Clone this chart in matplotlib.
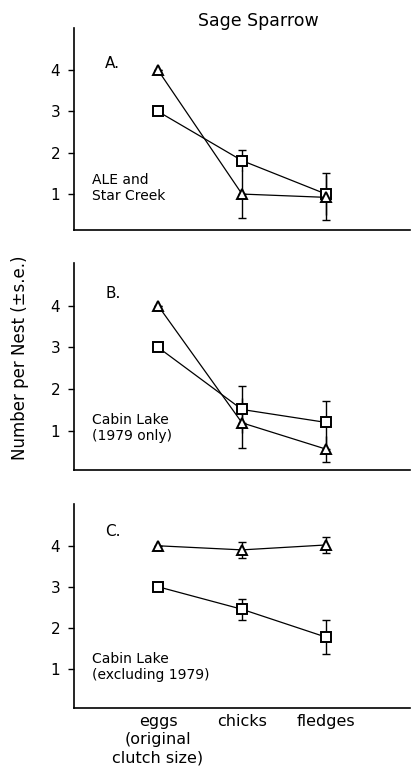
import matplotlib
matplotlib.use("Agg")
import matplotlib.pyplot as plt
import numpy as np

stages = ["eggs\n(original\nclutch size)", "chicks", "fledges"]

# Panel A: ALE and Star Creek
a_tri = [4.0, 1.0, 0.92]
a_tri_se = [0.0, 0.58, 0.54]
a_sq = [3.0, 1.81, 1.0]
a_sq_se = [0.0, 0.26, 0.5]

# Panel B: Cabin Lake (1979 only)
b_tri = [4.0, 1.19, 0.56]
b_tri_se = [0.0, 0.6, 0.31]
b_sq = [3.0, 1.51, 1.2]
b_sq_se = [0.0, 0.57, 0.52]

# Panel C: Cabin Lake (excluding 1979)
c_tri = [4.0, 3.9, 4.02]
c_tri_se = [0.0, 0.19, 0.19]
c_sq = [3.0, 2.45, 1.77]
c_sq_se = [0.0, 0.25, 0.42]

yticks = [1, 2, 3, 4]
panel_labels = ["A.", "B.", "C."]
site_labels = ["ALE and\nStar Creek", "Cabin Lake\n(1979 only)", "Cabin Lake\n(excluding 1979)"]

W, H = 417, 773
fig = plt.figure(figsize=(W / 100, H / 100), dpi=100)
plt.rcParams['font.family'] = ['DejaVu Sans']

boxes = [(74, 410, 28, 230), (74, 410, 263, 470), (74, 410, 504, 708)]
ylims = [(0.13, 5.02), (0.06, 5.02), (0.04, 5.02)]
panel_y = [4.17, 4.3, 4.34]
site_y = [1.15, 1.06, 1.05]
data = [(a_tri, a_tri_se, a_sq, a_sq_se),
        (b_tri, b_tri_se, b_sq, b_sq_se),
        (c_tri, c_tri_se, c_sq, c_sq_se)]
x = np.arange(1, len(stages) + 1)

def err(ax, y, se, side, cap):
    se = np.asarray(se)
    z = np.zeros_like(se)
    if side == "up":
        ax.errorbar(x, y, yerr=[z, se], fmt="none", ecolor="black", elinewidth=1.0,
                    capsize=cap, capthick=1.0, zorder=2)
        ax.errorbar(x, y, yerr=[se, z], fmt="none", ecolor="black", elinewidth=1.0,
                    capsize=0, zorder=2)
    elif side == "down":
        ax.errorbar(x, y, yerr=[se, z], fmt="none", ecolor="black", elinewidth=1.0,
                    capsize=cap, capthick=1.0, zorder=2)
        ax.errorbar(x, y, yerr=[z, se], fmt="none", ecolor="black", elinewidth=1.0,
                    capsize=0, zorder=2)
    else:
        ax.errorbar(x, y, yerr=se, fmt="none", ecolor="black", elinewidth=1.0,
                    capsize=cap, capthick=1.0, zorder=2)

for i, ((l, r, t, b), yl, (tri, tri_se, sq, sq_se)) in enumerate(zip(boxes, ylims, data)):
    ax = fig.add_axes([l / W, 1 - b / H, (r - l) / W, (b - t) / H])
    ax.set_xlim(0, 4)
    ax.set_ylim(*yl)
    if i < 2:
        err(ax, sq, sq_se, "up", 2.8)
        err(ax, tri, tri_se, "down", 2.8)
    else:
        err(ax, sq, sq_se, "both", 2.8)
        err(ax, tri, tri_se, "both", 2.8)
    ax.plot(x, sq, color="black", lw=0.9, marker="s", ms=7, mfc="white",
            mec="black", mew=1.4, zorder=3)
    ax.plot(x, tri, color="black", lw=0.9, marker="^", ms=7.5, mfc="white",
            mec="black", mew=1.4, zorder=3)
    for s in ["top", "right"]:
        ax.spines[s].set_visible(False)
    for s in ["left", "bottom"]:
        ax.spines[s].set_linewidth(1.2)
    ax.set_yticks(yticks)
    ax.set_yticklabels([str(v) for v in yticks], fontsize=11)
    ax.tick_params(axis="y", length=4, width=1.0, pad=6)
    if i == 2:
        ax.set_xticks(x)
        ax.set_xticklabels(stages, fontsize=11.5, linespacing=1.3)
        ax.tick_params(axis="x", length=0, pad=4)
    else:
        ax.set_xticks([])
    ax.text(0.37, panel_y[i], panel_labels[i], fontsize=11, ha="left", va="center")
    ax.text(0.21, site_y[i], site_labels[i], fontsize=10,
            ha="left", va="center", linespacing=1.2)

fig.text(258 / W, 1 - 21 / H, "Sage Sparrow", fontsize=12.5, ha="center", va="center")
fig.text(20 / W, 1 - 358 / H, "Number per Nest (\u00b1s.e.)", fontsize=12,
         rotation=90, ha="center", va="center")

fig.savefig("out.png", dpi=100)
